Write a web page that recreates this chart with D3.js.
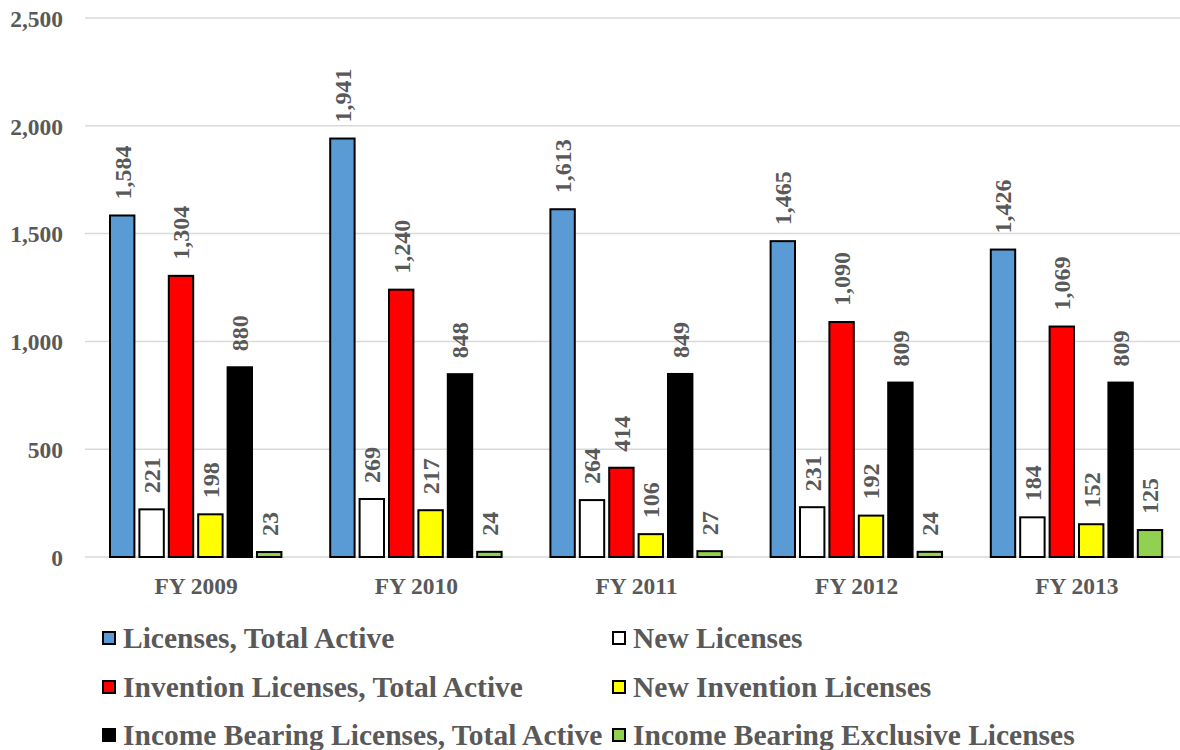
<!DOCTYPE html>
<html>
<head>
<meta charset="utf-8">
<script src="https://cdn.jsdelivr.net/npm/d3@7"></script>
<style>
  html, body { margin: 0; padding: 0; background: #fff; }
  svg { display: block; }
  text { font-family: "Liberation Serif", "Times New Roman", serif; font-weight: bold; fill: #595959; }
</style>
</head>
<body>
<svg id="chart" width="1180" height="750"></svg>
<script>
// Fiscal years on the x axis
const years = ["FY 2009", "FY 2010", "FY 2011", "FY 2012", "FY 2013"];

// Series names, in drawing order
const seriesNames = [
  "Licenses, Total Active",
  "New Licenses",
  "Invention Licenses, Total Active",
  "New Invention Licenses",
  "Income Bearing Licenses, Total Active",
  "Income Bearing Exclusive Licenses"
];

// Values per series, one per fiscal year
const totalActive       = [1584, 1941, 1613, 1465, 1426];
const newLicenses       = [221, 269, 264, 231, 184];
const inventionActive   = [1304, 1240, 414, 1090, 1069];
const newInvention      = [198, 217, 106, 192, 152];
const incomeActive      = [880, 848, 849, 809, 809];
const incomeExclusive   = [23, 24, 27, 24, 125];

const seriesValues = [totalActive, newLicenses, inventionActive, newInvention, incomeActive, incomeExclusive];
const seriesColors = ["#5B9BD5", "#FFFFFF", "#FF0000", "#FFFF00", "#000000", "#92D050"];

// Y axis ticks
const yTicks = [0, 500, 1000, 1500, 2000, 2500];

const svg = d3.select("#chart");
const fmt = d3.format(",");
const FONT = "'Liberation Serif', 'Times New Roman', serif";

const x0 = d3.scaleBand().domain(years).range([86, 1187]).paddingInner(0).paddingOuter(0);
const x1 = d3.scaleBand().domain(d3.range(seriesNames.length))
  .range([24, 24 + 6 * 29.4 - 5]).paddingInner(0.17).paddingOuter(0);
const y = d3.scaleLinear().domain([0, 2500]).range([557, 18]);

// Gridlines
svg.append("g").selectAll("line").data(yTicks).join("line")
  .attr("x1", 85).attr("x2", 1180)
  .attr("y1", d => y(d)).attr("y2", d => y(d))
  .attr("stroke", "#D9D9D9").attr("stroke-width", 1.5);

// Y axis labels
const yAxis = d3.axisLeft(y).tickValues(yTicks).tickFormat(fmt).tickSize(0).tickPadding(0);
const yg = svg.append("g").attr("transform", "translate(63,0)").call(yAxis);
yg.select(".domain").remove();
yg.selectAll("text").attr("font-size", 23.5).attr("fill", "#595959")
  .style("font-family", FONT).style("font-weight", "bold")
  .attr("dy", "0.35em");

// X axis labels
const xAxis = d3.axisBottom(x0).tickSize(0).tickPadding(0);
const xg = svg.append("g").attr("transform", "translate(0,575)").call(xAxis);
xg.select(".domain").remove();
xg.selectAll("text").attr("font-size", 23.5).attr("fill", "#595959")
  .style("font-family", FONT).style("font-weight", "bold")
  .attr("dy", "0.8em");

// Bars and value labels
const groups = svg.append("g").selectAll("g").data(years).join("g")
  .attr("transform", d => `translate(${x0(d)},0)`);

groups.each(function(year, yi) {
  const g = d3.select(this);
  seriesValues.forEach((vals, si) => {
    const v = vals[yi];
    const bx = x1(si);
    const bw = x1.bandwidth();
    g.append("rect")
      .attr("x", bx).attr("y", y(v))
      .attr("width", bw).attr("height", y(0) - y(v))
      .attr("fill", seriesColors[si])
      .attr("stroke", "#000").attr("stroke-width", 2);
    const cx = bx + bw / 2;
    const ty = y(v) - 16;
    g.append("text")
      .attr("transform", `translate(${cx},${ty}) rotate(-90)`)
      .attr("dy", "0.35em")
      .attr("font-size", 24)
      .text(fmt(v));
  });
});

// Legend
const legendCols = [103, 613];
const legendRows = [638, 687, 735];
const legend = svg.append("g");
seriesNames.forEach((name, i) => {
  const lx = legendCols[i % 2];
  const ly = legendRows[Math.floor(i / 2)];
  legend.append("rect")
    .attr("x", lx).attr("y", ly - 6)
    .attr("width", 12).attr("height", 12)
    .attr("fill", seriesColors[i]).attr("stroke", "#000").attr("stroke-width", 2);
  legend.append("text")
    .attr("x", lx + 20).attr("y", ly)
    .attr("dy", "0.35em")
    .attr("font-size", 29.5)
    .text(name);
});
</script>
</body>
</html>
